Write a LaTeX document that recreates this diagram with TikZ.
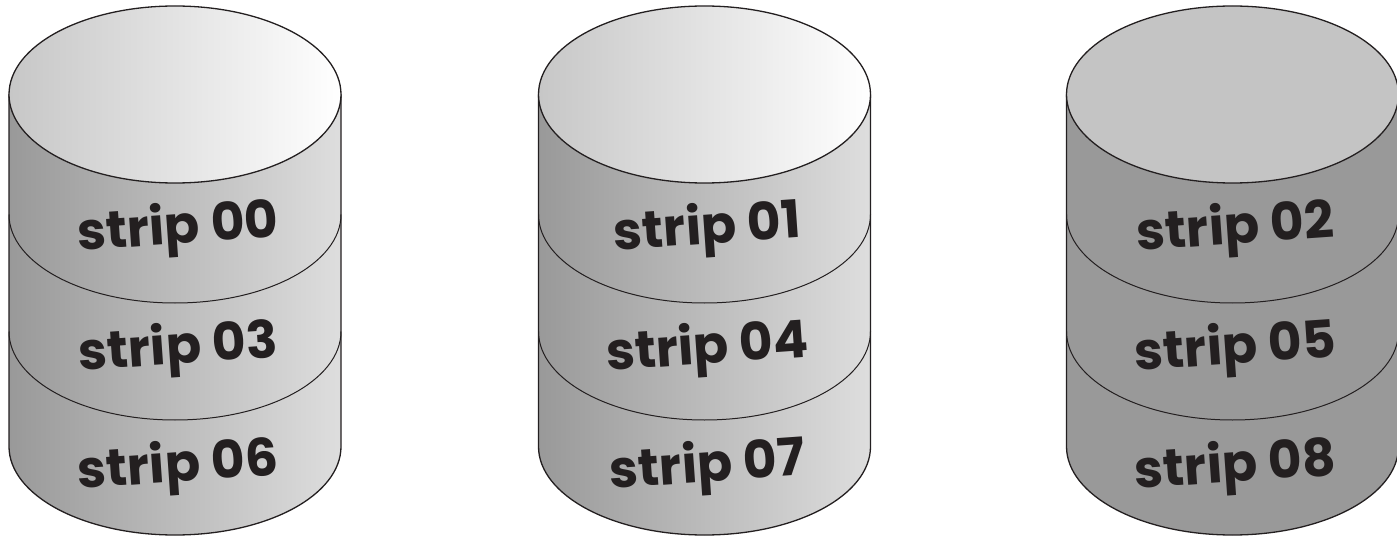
\documentclass[tikz,border=0pt]{standalone}
\usepackage{fontspec}
\setmainfont{Poppins}
\definecolor{ink}{HTML}{231F20}
\definecolor{flattop}{HTML}{C4C4C4}
\definecolor{flatside}{HTML}{999999}
\tikzset{
  edge/.style={draw=ink, line width=1.3pt, line join=round},
  sideshade/.style={left color=black!40, right color=black!13},
  topshade/.style={left color=black!22, right color=white},
  flatsideshade/.style={fill=flatside},
  flattopshade/.style={fill=flattop},
  lbl/.style={text=ink, font=\fontsize{52}{52}\selectfont\bfseries, rotate=4, inner sep=0pt},
}
% #1 cx, #2 side style, #3 top style, #4 name, #5-#7 labels
\newcommand{\mycyl}[7]{%
  \path[edge,#2] (#1-166,94.5) -- (#1-166,446.5)
     arc[start angle=180, end angle=0, x radius=166, y radius=88.5]
     -- (#1+166,94.5) -- cycle;
  \draw[edge,line width=1pt] (#1-166,214.5) arc[start angle=180, end angle=0, x radius=166, y radius=88.5];
  \draw[edge,line width=1pt] (#1-166,331.5) arc[start angle=180, end angle=0, x radius=166, y radius=88.5];
  \path[edge,#3] (#1,94.5) ellipse[x radius=166, y radius=88.5];
  \node[lbl] (#4a) at (#1+3,230) {#5};
  \node[lbl] (#4b) at (#1+3,350) {#6};
  \node[lbl] (#4c) at (#1+3,468) {#7};
}
\begin{document}
\begin{tikzpicture}[x=1pt,y=-1pt]
\useasboundingbox (0,0) rectangle (1397,537);
\mycyl{175}{sideshade}{topshade}{d0}{strip 00}{strip 03}{strip 06}
\mycyl{704.5}{sideshade}{topshade}{d1}{strip 01}{strip 04}{strip 07}
\mycyl{1232.5}{flatsideshade}{flattopshade}{d2}{strip 02}{strip 05}{strip 08}
\end{tikzpicture}
\end{document}
